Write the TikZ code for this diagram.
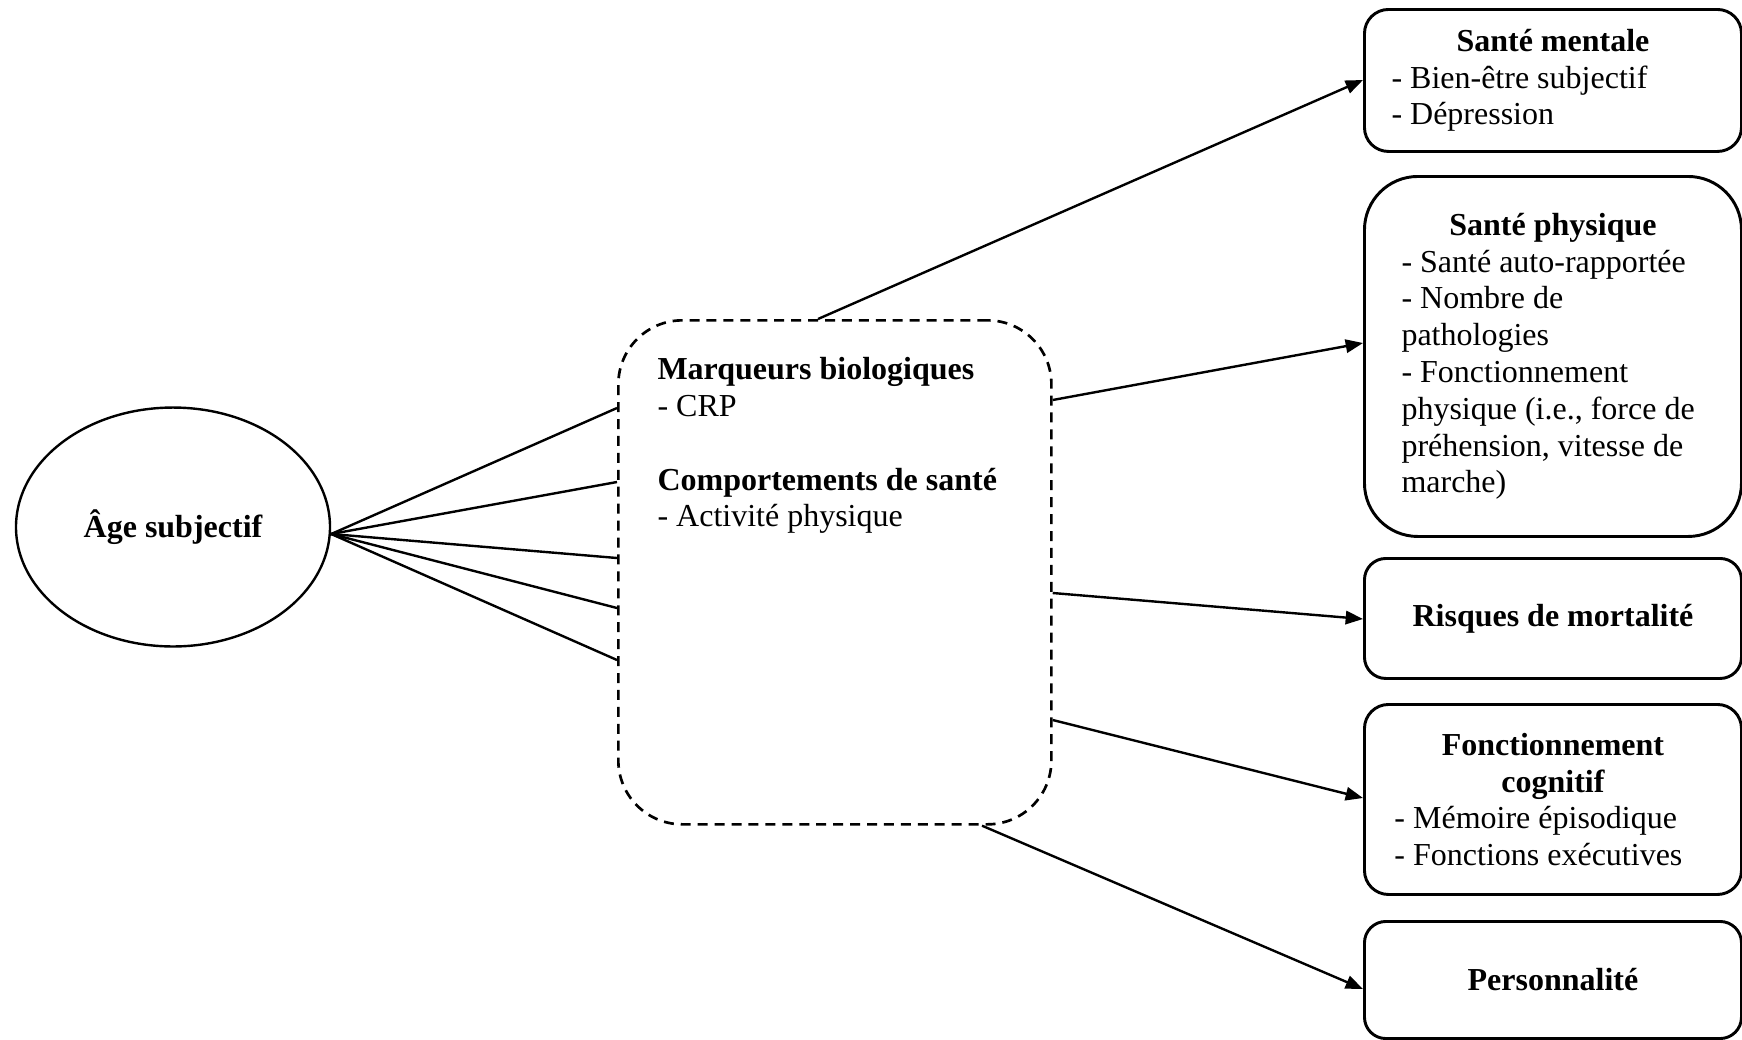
\documentclass[tikz,border=0pt]{standalone}
\usepackage{fontspec}
\setmainfont{Liberation Serif}
\usetikzlibrary{arrows.meta,shapes.geometric}
\begin{document}
\begin{tikzpicture}[x=0.375pt,y=-0.375pt,
  every node/.style={font=\fontsize{12}{13.8}\selectfont},
  outbox/.style={draw, line width=1.1pt, rounded corners=#1, minimum width=141.375pt,
    inner ysep=0pt, inner xsep=0pt, anchor=north west},
  conn/.style={line width=0.9pt},
  arr/.style={line width=0.9pt, -{Triangle[length=6.5pt,width=5pt]}}]
\fill[white] (0,0) rectangle (1742,1039);
\useasboundingbox (0,0) rectangle (1742,1039);

% left ellipse
\node[draw, ellipse, line width=0.9pt, minimum width=117.75pt, minimum height=89.6pt,
  inner sep=0pt, font=\fontsize{12}{13.8}\selectfont\bfseries] (age) at (173,527) {Âge subjectif};

% mediator dashed box
\node[draw, line width=1pt, dash pattern=on 3.75pt off 2.6pt, rounded corners=24pt,
  minimum width=162.4pt, minimum height=189pt, inner sep=0pt, anchor=north west] (med) at (617,319) {};
\node[anchor=north west, inner sep=0pt, align=flush left] (medtext) at (657,357)
  {\textbf{Marqueurs biologiques}\\- CRP\\[13.8pt]\textbf{Comportements de santé}\\- Activité physique};

% outcome boxes
\node[outbox=9pt, minimum height=53.25pt, text width=121.1pt, align=flush left] (b1) at (1363,8)
  {\makebox[\hsize][c]{\bfseries Santé mentale}\\- Bien-être subjectif\\- Dépression};
\node[outbox=20pt, minimum height=135pt, text width=113.6pt, align=flush left] (b2) at (1363,175)
  {\makebox[\hsize][c]{\bfseries Santé physique}\\- Santé auto-rapportée\\- Nombre de\\pathologies\\- Fonctionnement\\physique (i.e., force de\\préhension, vitesse de\\marche)};
\node[outbox=8pt, minimum height=45pt, font=\fontsize{12}{13.8}\selectfont\bfseries] (b3) at (1363,557)
  {Risques de mortalité};
\node[outbox=9pt, minimum height=71.25pt, text width=118.9pt, align=flush left] (b4) at (1363,703)
  {\makebox[\hsize][c]{\bfseries Fonctionnement}\\\makebox[\hsize][c]{\bfseries cognitif}\\- Mémoire épisodique\\- Fonctions exécutives};
\node[outbox=8pt, minimum height=43.9pt, font=\fontsize{12}{13.8}\selectfont\bfseries] (b5) at (1363,920)
  {Personnalité};

% connectors from ellipse to mediator box
\coordinate (hub) at (age.east |- 0,534);
\draw[conn] (hub) -- (med.west |- 0,408);
\draw[conn] (hub) -- (med.west |- 0,482);
\draw[conn] (hub) -- (med.west |- 0,558);
\draw[conn] (hub) -- (med.west |- 0,608);
\draw[conn] (hub) -- (med.west |- 0,660);

% arrows to outcomes
\draw[arr] (med.north -| 818,0) -- (b1.west |- 0,80);
\draw[arr] (med.east |- 0,400) -- (b2.west |- 0,343);
\draw[arr] (med.east |- 0,593) -- (b3.west |- 0,619);
\draw[arr] (med.east |- 0,720) -- (b4.west |- 0,798);
\draw[arr] (med.south -| 982,0) -- (b5.west |- 0,989);
\end{tikzpicture}
\end{document}
